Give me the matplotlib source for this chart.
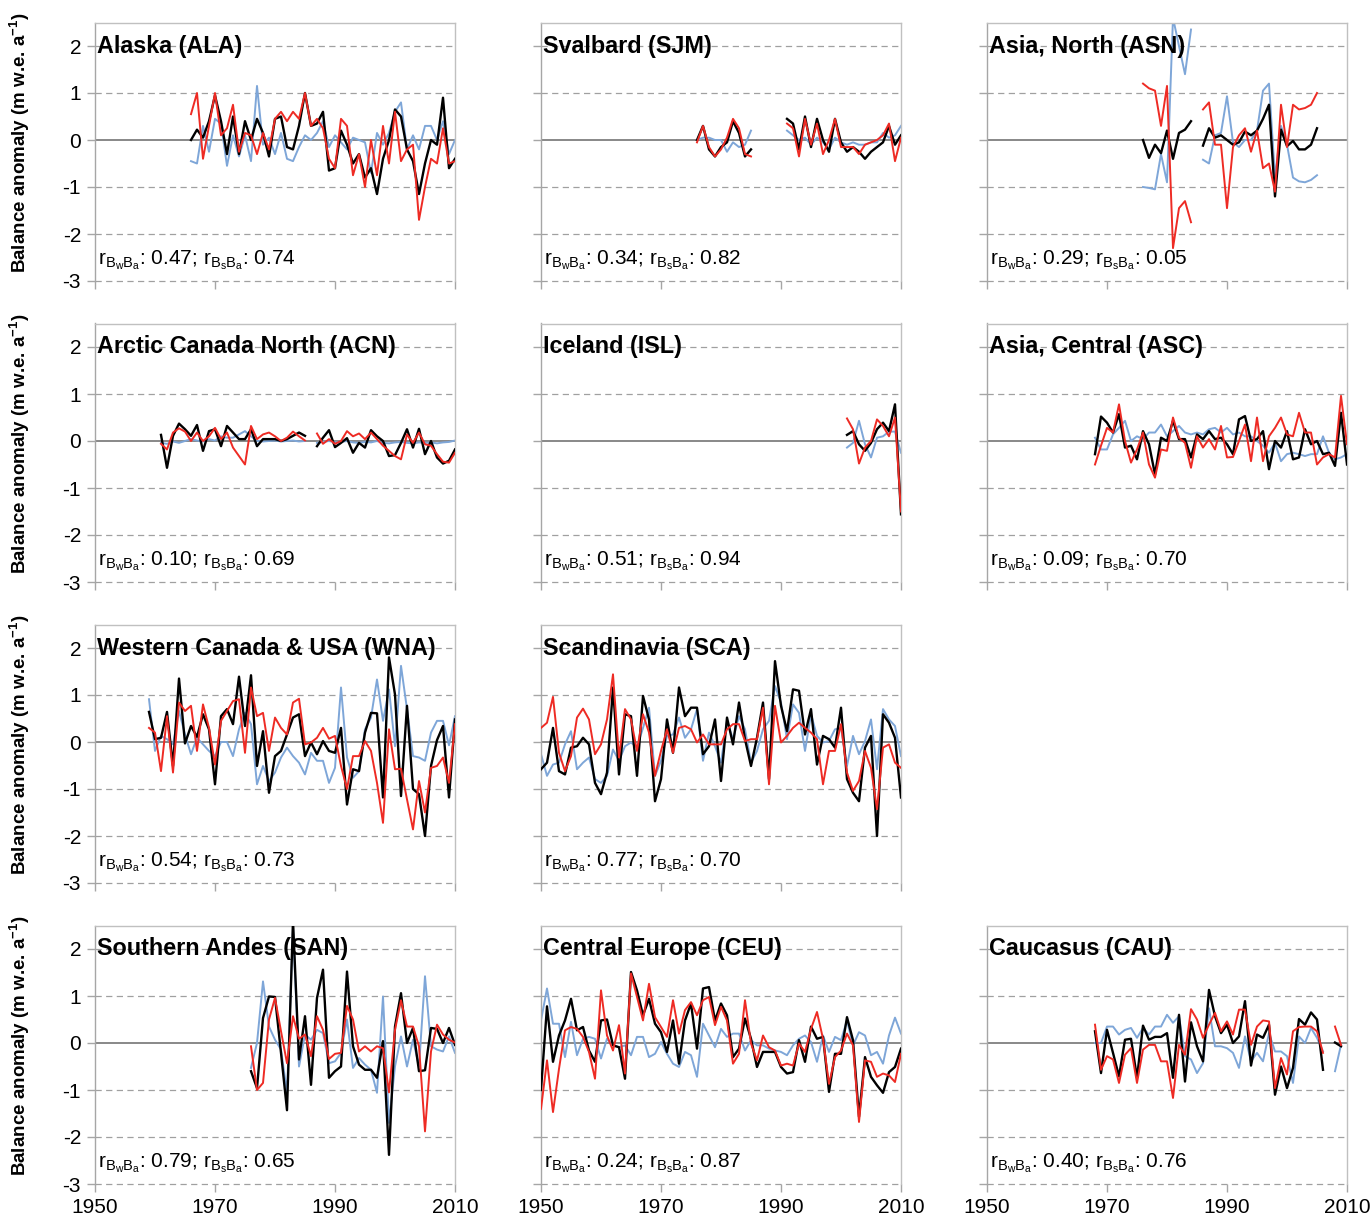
import numpy as np
import matplotlib
matplotlib.use('Agg')
import matplotlib.pyplot as plt

plt.rcParams['font.family'] = ['Liberation Sans', 'DejaVu Sans']
plt.rcParams['mathtext.fontset'] = 'custom'
plt.rcParams['mathtext.rm'] = 'Liberation Sans'
plt.rcParams['mathtext.it'] = 'Liberation Sans:italic'
plt.rcParams['mathtext.bf'] = 'Liberation Sans:bold'
plt.rcParams['axes.unicode_minus'] = False

N = np.nan

# --- Alaska (ALA), 1966-2010 ---
ala_start = 1966
ala_ba = [0.0, 0.22, 0.05, 0.4, 0.95, 0.4, -0.3, 0.5, -0.3, 0.4, 0.0, 0.45, 0.15, -0.35, 0.45,
          0.5, -0.15, -0.2, 0.3, 1.0, 0.3, 0.35, 0.6, -0.65, -0.6, 0.2, -0.1, -0.5, -0.3, -0.8,
          -0.6, -1.15, -0.4, 0.0, 0.65, 0.5, -0.2, -0.45, -1.15, -0.5, 0.0, -0.1, 0.9, -0.6, -0.4]
ala_bs = [0.55, 1.0, -0.4, 0.3, 1.0, 0.1, 0.25, 0.75, -0.25, 0.15, 0.1, -0.3, 0.15, -0.2, 0.45,
          0.6, 0.4, 0.6, 0.45, 1.0, 0.3, 0.45, 0.25, -0.4, -0.6, 0.45, 0.3, -0.75, -0.3, -1.0,
          0.0, -0.75, 0.3, -0.5, 0.6, -0.45, -0.2, -0.1, -1.7, -1.0, -0.4, -0.5, 0.25, -0.5, -0.45]
ala_bw = [-0.45, -0.5, 0.3, -0.25, 0.45, 0.35, -0.55, 0.1, -0.35, 0.1, -0.45, 1.15, -0.1, 0.05, -0.3,
          0.15, -0.4, -0.45, -0.15, 0.1, 0.0, 0.15, 0.4, -0.15, 0.1, -0.05, -0.2, 0.05, 0.0, -0.05,
          -0.7, 0.15, -0.1, 0.15, 0.6, 0.8, -0.2, 0.1, -0.2, 0.3, 0.3, 0.0, 0.4, -0.3, 0.0]

# --- Svalbard (SJM), 1976-2010 ---
sjm_start = 1976
sjm_ba = [0.0, 0.3, -0.2, -0.35, -0.15, -0.05, 0.4, 0.15, -0.35, -0.2, N, N, N, N, N,
          0.45, 0.35, -0.2, 0.5, -0.15, 0.45, 0.0, -0.25, 0.45, -0.05, -0.25, -0.15, -0.25, -0.4, -0.25,
          -0.15, -0.05, 0.3, -0.1, 0.1]
sjm_bs = [-0.05, 0.3, -0.15, -0.35, -0.2, 0.05, 0.45, 0.25, -0.3, -0.35, N, N, N, N, N,
          0.35, 0.25, -0.35, 0.45, -0.1, 0.35, -0.3, 0.0, 0.45, -0.15, -0.15, -0.15, -0.3, -0.1, -0.05,
          0.0, 0.1, 0.35, -0.45, 0.05]
sjm_bw = [0.0, 0.05, 0.05, 0.0, 0.0, -0.25, -0.05, -0.15, -0.1, 0.2, N, N, N, N, N,
          0.2, 0.1, 0.0, 0.05, -0.1, 0.05, -0.05, -0.2, 0.05, -0.05, -0.1, -0.05, -0.1, -0.1, -0.05,
          -0.05, 0.15, 0.05, 0.1, 0.3]

# --- Asia, North (ASN), 1976-2005 ---
asn_start = 1976
asn_ba = [0.0, -0.38, -0.1, -0.28, 0.2, -0.4, 0.15, 0.22, 0.4, N,
          -0.12, 0.25, 0.05, 0.1, 0.0, -0.1, -0.05, 0.18, 0.1, 0.2, 0.45, 0.75, -1.2, 0.22, -0.13,
          -0.02, -0.2, -0.2, -0.1, 0.25]
asn_bs = [1.2, 1.1, 1.05, 0.3, 1.15, -2.3, -1.45, -1.3, -1.75, N,
          0.65, 0.8, -0.1, -0.1, -1.45, -0.15, 0.1, 0.25, -0.25, 0.2, -0.6, -0.5, -1.1, 0.75, -0.15,
          0.75, 0.65, 0.68, 0.75, 1.0]
asn_bw = [-1.0, -1.02, -1.05, -0.3, -0.9, 2.6, 2.0, 1.4, 2.35, N,
          -0.42, -0.5, 0.1, 0.15, 0.93, -0.05, -0.15, 0.0, 0.0, 0.2, 1.05, 1.2, -0.8, 0.3, -0.1,
          -0.8, -0.88, -0.9, -0.85, -0.75]

# --- Arctic Canada North (ACN), 1961-2010 ---
acn_start = 1961
acn_ba = [0.13, -0.57, 0.11, 0.37, 0.25, 0.11, 0.34, -0.21, 0.21, 0.25, -0.11, 0.32, 0.18, 0.04, 0.04,
          0.25, -0.11, 0.04, 0.04, 0.04, 0.0, 0.04, 0.11, 0.18, 0.11, N,
          -0.11, 0.07, 0.23, -0.13, -0.04, 0.06, -0.25, -0.04, -0.14, 0.23, 0.1, 0.0, -0.32, -0.3, -0.04,
          0.25, -0.14, 0.26, -0.28, 0.0, -0.35, -0.48, -0.42, -0.18]
acn_bs = [-0.06, -0.18, 0.18, 0.27, 0.2, 0.0, 0.18, 0.0, 0.1, 0.28, 0.04, 0.18, -0.14, -0.32, -0.5,
          0.32, 0.04, 0.14, 0.18, 0.1, 0.0, 0.07, 0.2, 0.1, 0.01, N,
          0.16, -0.06, 0.04, -0.06, 0.0, 0.21, 0.1, 0.16, 0.04, 0.18, 0.04, -0.1, -0.21, -0.32, -0.39,
          0.14, -0.04, 0.18, -0.07, -0.1, -0.28, -0.44, -0.46, -0.25]
acn_bw = [-0.04, -0.06, -0.01, -0.04, 0.0, 0.04, 0.01, -0.01, 0.04, 0.01, 0.1, 0.07, 0.07, 0.14, 0.21,
          0.1, 0.0, -0.01, 0.0, 0.01, -0.01, 0.0, 0.01, -0.01, 0.0, N,
          -0.04, -0.02, 0.0, -0.03, -0.02, 0.0, -0.03, -0.04, -0.02, -0.03, 0.0, -0.04, -0.05, -0.03, -0.02,
          -0.04, -0.05, -0.03, -0.04, -0.03, -0.05, -0.03, -0.02, 0.01]

# --- Iceland (ISL), 2001-2010 ---
isl_start = 2001
isl_ba = [0.13, 0.21, -0.07, -0.21, -0.04, 0.25, 0.39, 0.21, 0.78, -1.56]
isl_bs = [0.48, 0.25, -0.48, -0.14, 0.0, 0.46, 0.32, 0.1, 0.5, -1.5]
isl_bw = [-0.14, -0.04, 0.43, -0.07, -0.35, 0.07, 0.1, 0.2, 0.2, -0.25]

# --- Asia, Central (ASC), 1968-2010 ---
asc_start = 1968
asc_ba = [-0.28, 0.52, 0.39, 0.18, 0.57, -0.14, -0.1, -0.39, 0.21, -0.07, -0.71, 0.07, 0.0, 0.43, 0.04,
          0.04, -0.35, 0.14, 0.04, 0.21, 0.04, 0.07, -0.07, -0.28, 0.46, 0.53, 0.0, 0.04, 0.21, -0.6,
          0.0, -0.14, 0.21, -0.39, -0.35, 0.25, -0.07, 0.0, -0.28, -0.25, -0.53, 0.6, -0.5]
asc_bs = [-0.5, -0.1, 0.28, 0.18, 0.78, 0.0, -0.46, -0.18, 0.18, -0.5, -0.78, -0.18, -0.21, 0.5, 0.07,
          -0.04, -0.57, 0.1, -0.14, 0.04, -0.18, 0.32, -0.35, -0.34, 0.0, 0.35, -0.43, 0.5, -0.43, 0.1,
          0.28, 0.5, 0.14, 0.1, 0.6, 0.18, 0.18, -0.5, -0.35, -0.28, -0.35, 0.96, -0.07]
asc_bw = [0.07, -0.18, -0.18, 0.14, 0.28, 0.43, 0.0, 0.1, 0.04, 0.18, 0.18, 0.35, 0.1, 0.21, 0.32,
          0.18, 0.14, 0.18, 0.14, 0.25, 0.28, 0.18, 0.28, 0.14, 0.18, 0.1, 0.1, 0.0, -0.1, -0.25,
          -0.04, -0.43, -0.28, -0.25, -0.28, -0.32, -0.28, -0.28, 0.1, -0.25, -0.39, -0.35, -0.28]

# --- Western Canada & USA (WNA), 1959-2010 ---
wna_start = 1959
wna_ba = [0.64, 0.06, 0.09, 0.64, -0.51, 1.35, -0.03, 0.34, 0.11, 0.59, 0.27, -0.9, 0.55, 0.7, 0.38,
          1.39, 0.34, 1.42, -0.51, 0.23, -1.08, -0.3, -0.19, 0.16, 0.52, 0.59, -0.3, -0.01, -0.26, 0.02,
          -0.19, -0.23, 0.3, -1.33, -0.58, -0.62, 0.2, 0.62, 0.61, -1.18, 1.8, 1.01, -1.15, 0.77, -1.0,
          -1.11, -2.0, -0.51, 0.04, 0.34, -1.18, 0.48]
wna_bs = [0.3, 0.2, -0.62, 0.55, -0.65, 0.84, 0.66, 0.77, -0.19, 0.8, 0.3, -0.48, 0.45, 0.66, 0.87,
          0.91, -0.23, 1.16, 0.55, 0.62, -0.19, 0.52, 0.3, 0.16, 0.84, 0.92, -0.05, -0.01, 0.09, 0.3,
          0.07, 0.13, -0.51, -1.0, -0.3, -0.3, 0.02, -0.19, -0.87, -1.72, 0.27, -0.58, -0.57, -1.22, -1.86,
          -0.83, -1.5, -0.55, -0.51, -0.33, -0.87, 0.38]
wna_bw = [0.91, -0.19, 0.13, 0.06, -0.05, 0.66, 0.16, -0.26, 0.09, -0.05, -0.19, -0.3, 0.0, 0.0, -0.3,
          0.27, 0.62, 0.38, -0.9, -0.51, -0.83, -0.65, -0.33, -0.12, -0.3, -0.44, -0.69, -0.23, -0.4, -0.4,
          -0.87, -0.55, 1.16, -0.33, -0.76, -0.62, 0.27, 0.52, 1.33, 0.45, 1.12, -0.09, 1.62, 0.7, -0.3,
          -0.33, -0.4, 0.2, 0.45, 0.45, -0.07, 0.55]

# --- Scandinavia (SCA), 1950-2010 ---
sca_start = 1950
sca_ba = [-0.58, -0.44, 0.3, -0.62, -0.69, -0.12, -0.09, 0.09, -0.05, -0.87,
          -1.11, -0.65, 1.16, -0.69, 0.59, 0.55, -0.72, 0.98, 0.48, -1.26,
          -0.79, 0.48, -0.23, 1.16, 0.55, 0.73, 0.73, -0.26, -0.09, 0.48,
          -0.83, 0.52, -0.05, 0.84, 0.06, -0.51, 0.09, 0.84, -0.79, 1.72,
          0.77, 0.23, 1.12, 1.09, 0.16, 0.7, -0.48, 0.13, 0.06, -0.12,
          0.73, -0.79, -1.08, -1.26, -0.12, 0.13, -2.0, 0.59, 0.41, 0.09, -1.18]
sca_bs = [0.3, 0.41, 0.96, -0.23, -0.62, -0.3, 0.52, 0.71, 0.48, -0.26,
          -0.05, 0.48, 1.44, -0.33, 0.7, 0.48, -0.19, 0.59, 0.2, -0.72,
          -0.19, 0.27, -0.23, 0.3, 0.34, 0.27, -0.01, 0.16, -0.05, -0.05,
          -0.05, 0.27, 0.38, 0.38, 0.02, 0.06, 0.06, 0.73, -0.9, 0.77,
          -0.01, 0.13, 0.3, 0.41, 0.3, 0.2, 0.06, -0.9, -0.19, -0.19,
          0.38, -0.65, -1.04, -0.83, -0.19, -0.55, -1.43, -0.12, -0.05, -0.44, -0.55]
sca_bw = [-0.26, -0.72, -0.48, -0.44, -0.05, 0.23, -0.58, -0.44, -0.33, -0.79,
          -0.87, -0.72, -0.16, -0.4, -0.09, -0.01, -0.12, 0.3, 0.73, -0.72,
          -0.4, 0.13, 0.16, 0.52, 0.09, 0.27, 0.7, -0.4, 0.2, -0.09,
          -0.44, 0.45, 0.06, 0.55, 0.27, -0.44, -0.19, 0.27, 0.45, 1.19,
          0.84, 0.06, 0.8, 0.62, -0.19, 0.59, 0.13, -0.01, 0.02, 0.27,
          0.3, -0.51, 0.13, -0.26, 0.02, 0.48, -0.58, 0.7, 0.48, 0.34, -0.3]

# --- Southern Andes (SAN), 1976-2010 ---
san_start = 1976
san_ba = [-0.6, -0.96, 0.53, 0.99, 0.98, -0.21, -1.43, 2.6, -0.35, 0.57, -0.89, 0.96, 1.56, -0.74, -0.6,
          -0.5, 1.52, -0.07, -0.46, -0.57, -0.57, -0.74, 0.04, -2.38, 0.35, 1.06, 0.0, 0.32, -0.6, -0.58,
          0.32, 0.3, 0.0, 0.32, -0.04]
san_bs = [-0.07, -1.0, -0.85, 0.5, 0.96, 0.25, -0.43, 0.57, 0.09, 0.18, -0.28, 0.57, 0.28, -0.34, -0.23,
          -0.21, 0.79, 0.5, -0.18, -0.07, -0.18, -0.07, -0.11, -1.05, 0.28, 0.91, 0.35, 0.35, -0.07, -1.88,
          -0.18, 0.39, 0.18, 0.07, 0.01]
san_bw = [-0.53, 0.0, 1.31, 0.35, 0.07, -0.14, -1.06, 2.45, -0.5, 0.18, 0.07, 0.28, 0.21, -0.43, -0.39,
          -0.21, 0.5, -0.53, -0.32, -0.46, -0.57, -1.06, 0.99, -1.7, -0.5, 0.14, -0.5, 0.07, -0.5, 1.42,
          -0.07, -0.14, -0.18, 0.14, -0.21]

# --- Central Europe (CEU), 1950-2010 ---
ceu_start = 1950
ceu_ba = [-1.0, 0.78, -0.4, 0.16, 0.48, 0.94, 0.27, 0.34, -0.16, -0.4,
          0.48, 0.5, -0.05, -0.09, -0.76, 1.51, 1.12, 0.59, 0.94, 0.41,
          0.23, -0.19, 0.48, -0.44, 0.48, 0.84, -0.12, 1.16, 1.19, 0.48,
          0.84, 0.59, -0.3, -0.12, 0.52, 0.09, -0.51, -0.19, -0.19, -0.19,
          -0.51, -0.65, -0.62, 0.06, -0.4, 0.35, 0.09, 0.13, -1.04, -0.23,
          -0.23, 0.55, 0.06, -1.57, -0.3, -0.72, -0.9, -1.06, -0.62, -0.51, -0.12]
ceu_bs = [-1.4, -0.37, -1.47, -0.55, 0.27, 0.34, 0.3, 0.13, -0.19, -0.76,
          1.12, 0.16, -0.16, 0.38, -0.65, 1.48, 0.98, 0.48, 1.26, 0.55,
          0.34, 0.13, 0.91, 0.2, 0.7, 0.87, 0.59, 0.91, 0.98, 0.38,
          0.77, 0.48, -0.44, -0.23, 0.91, -0.01, -0.37, 0.16, -0.09, -0.16,
          -0.48, -0.44, -0.48, -0.01, -0.19, 0.3, 0.66, 0.09, -0.87, -0.3,
          -0.16, 0.2, -0.05, -1.68, -0.37, -0.4, -0.72, -0.65, -0.69, -0.83, -0.23]
ceu_bw = [0.48, 1.16, 0.41, 0.41, -0.3, 0.45, -0.26, 0.09, 0.13, 0.09,
          -0.33, 0.09, -0.05, -0.09, -0.05, -0.26, 0.13, 0.13, -0.3, -0.23,
          0.02, -0.23, -0.44, -0.51, -0.19, -0.26, -0.72, 0.41, 0.16, -0.09,
          0.3, 0.13, 0.2, 0.2, -0.16, 0.06, -0.05, -0.05, -0.12, -0.16,
          -0.19, -0.26, -0.05, 0.09, 0.16, 0.02, -0.4, 0.16, -0.19, 0.13,
          0.06, 0.48, -0.05, 0.23, 0.16, -0.26, -0.19, -0.44, 0.16, 0.54, 0.2]

# --- Caucasus (CAU), 1968-2009 ---
cau_start = 1968
cau_ba = [0.25, -0.64, 0.28, -0.21, -0.71, 0.07, 0.09, -0.74, 0.37, 0.07, 0.13, 0.13, 0.21, -0.74, 0.6,
          -0.82, 0.44, -0.07, -0.39, 1.13, 0.57, 0.21, 0.39, 0.0, 0.14, 0.89, -0.48, 0.18, 0.11, 0.39,
          -1.1, -0.5, -0.96, -0.53, 0.51, 0.39, 0.65, 0.5, -0.57, N, 0.01, -0.07]
cau_bs = [0.39, -0.57, -0.28, -0.35, -0.85, -0.25, -0.11, -0.85, -0.14, -0.04, -0.04, -0.39, -0.39, -1.17, -0.04,
          -0.25, 0.72, 0.5, 0.11, 0.39, 0.64, 0.25, 0.46, 0.18, 0.71, 0.71, -0.04, 0.35, 0.48, 0.46,
          -0.96, -0.32, -0.67, 0.25, 0.34, 0.35, 0.35, 0.25, -0.21, N, 0.35, -0.04]
cau_bw = [0.0, 0.0, 0.35, 0.35, 0.18, 0.28, 0.32, 0.11, 0.32, 0.18, 0.35, 0.35, 0.6, 0.43, 0.57,
          -0.28, -0.35, -0.64, -0.43, 0.74, -0.07, -0.07, -0.11, -0.21, -0.53, 0.14, -0.39, -0.21, -0.39, 0.21,
          -0.18, -0.18, -0.28, -0.85, 0.14, 0.0, 0.32, 0.11, -0.18, N, -0.6, -0.04]

# (row, col, title, first year, Ba, Bw, Bs, r_BwBa, r_BsBa)
panels = [
    (0, 0, 'Alaska (ALA)', ala_start, ala_ba, ala_bw, ala_bs, '0.47', '0.74'),
    (0, 1, 'Svalbard (SJM)', sjm_start, sjm_ba, sjm_bw, sjm_bs, '0.34', '0.82'),
    (0, 2, 'Asia, North (ASN)', asn_start, asn_ba, asn_bw, asn_bs, '0.29', '0.05'),
    (1, 0, 'Arctic Canada North (ACN)', acn_start, acn_ba, acn_bw, acn_bs, '0.10', '0.69'),
    (1, 1, 'Iceland (ISL)', isl_start, isl_ba, isl_bw, isl_bs, '0.51', '0.94'),
    (1, 2, 'Asia, Central (ASC)', asc_start, asc_ba, asc_bw, asc_bs, '0.09', '0.70'),
    (2, 0, 'Western Canada & USA (WNA)', wna_start, wna_ba, wna_bw, wna_bs, '0.54', '0.73'),
    (2, 1, 'Scandinavia (SCA)', sca_start, sca_ba, sca_bw, sca_bs, '0.77', '0.70'),
    (3, 0, 'Southern Andes (SAN)', san_start, san_ba, san_bw, san_bs, '0.79', '0.65'),
    (3, 1, 'Central Europe (CEU)', ceu_start, ceu_ba, ceu_bw, ceu_bs, '0.24', '0.87'),
    (3, 2, 'Caucasus (CAU)', cau_start, cau_ba, cau_bw, cau_bs, '0.40', '0.76'),
]

W, H = 1370, 1216
fig = plt.figure(figsize=(W / 100, H / 100), dpi=100)

col_left = [95, 541, 987]
row_bottom = [281, 582, 883, 1184]
ax_w, ax_h = 360, 258.5

grey_frame = '#c0c0c0'
for row, col, title, start, ba, bw, bs, r1, r2 in panels:
    ax = fig.add_axes([col_left[col] / W, 1 - row_bottom[row] / H, ax_w / W, ax_h / H])
    ax.set_xlim(1950, 2010)
    ax.set_ylim(-3, 2.5)

    for g in [-3, -2, -1, 1, 2]:
        ax.axhline(g, color='#a0a0a0', lw=0.9, ls=(0, (5, 3.5)), zorder=1, clip_on=False)
    ax.axhline(0, color='#7f7f7f', lw=1.3, zorder=1)

    yrs = start + np.arange(len(ba))
    ax.plot(yrs, np.array(bw, dtype=float), color='#7ea6d8', lw=1.4, zorder=2)
    ax.plot(yrs, np.array(ba, dtype=float), color='black', lw=1.7, zorder=3)
    ax.plot(yrs, np.array(bs, dtype=float), color='#ee2b24', lw=1.4, zorder=4)

    for s in ['top', 'right', 'left']:
        ax.spines[s].set_color(grey_frame)
        ax.spines[s].set_linewidth(1.0)
    ax.spines['left'].set_color('#a6a6a6')
    ax.spines['bottom'].set_visible(False)

    ax.set_xticks([1950, 1970, 1990, 2010])
    ax.set_yticks([-3, -2, -1, 0, 1, 2])
    ax.tick_params(axis='both', direction='out', length=6, width=1.0, color='#a6a6a6',
                   labelsize=15, pad=4)
    if row != 3:
        ax.tick_params(axis='x', labelbottom=False)
    if col != 0:
        ax.tick_params(axis='y', labelleft=False)
    else:
        ax.set_ylabel('Balance anomaly (m w.e. a$^{\\mathbf{-1}}$)', fontsize=13.5,
                      fontweight='bold')
        ax.yaxis.set_label_coords(-0.176, 0.535)

    ax.text(1950.35, 2.0, title, fontsize=16.8, fontweight='bold', ha='left', va='center',
            zorder=5)
    ax.text(1950.5, -2.65,
            'r$_{\\mathrm{B_wB_a}}$: ' + r1 + '; r$_{\\mathrm{B_sB_a}}$: ' + r2,
            fontsize=15, ha='left', va='baseline', zorder=5)

fig.savefig('out.png', dpi=100)
